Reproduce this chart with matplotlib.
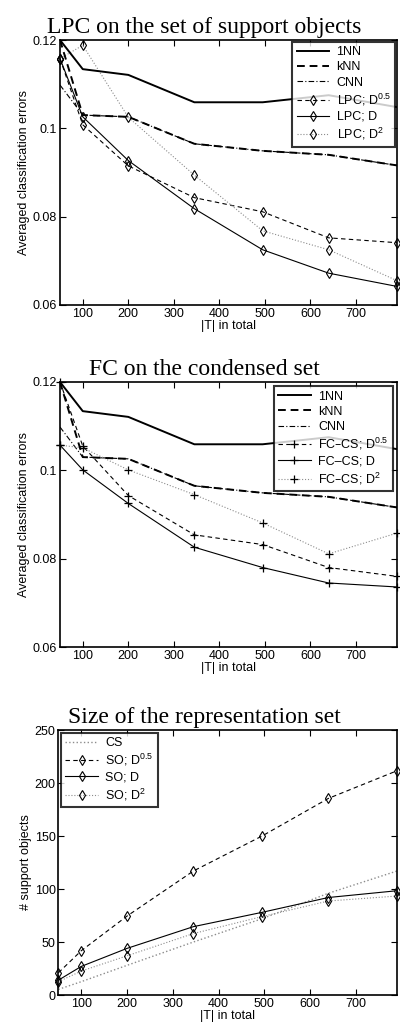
"""
Three stacked panels: LPC / FC classification errors and support-set size vs |T|
"""

import matplotlib
matplotlib.use("Agg")
import matplotlib.pyplot as plt

# ──────────────────────────────────────────────
# Data
# ──────────────────────────────────────────────

T_TOTAL = [50, 100, 200, 345, 495, 640, 790]

ERR_1NN = [0.1200, 0.1134, 0.1121, 0.1059, 0.1059, 0.1075, 0.1048]
ERR_KNN = [0.1200, 0.1030, 0.1026, 0.0965, 0.0949, 0.0940, 0.0916]
ERR_CNN = [0.1098, 0.1030, 0.1026, 0.0965, 0.0949, 0.0940, 0.0916]

LPC_D05 = [0.1158, 0.1008, 0.0915, 0.0843, 0.0811, 0.0752, 0.0741]
LPC_D1  = [0.1158, 0.1026, 0.0927, 0.0818, 0.0725, 0.0672, 0.0642]
LPC_D2  = [0.1158, 0.1188, 0.1025, 0.0894, 0.0768, 0.0725, 0.0655]

FC_D05 = [0.1200, 0.1055, 0.0943, 0.0854, 0.0832, 0.0780, 0.0760]
FC_D1  = [0.1057, 0.1001, 0.0925, 0.0826, 0.0780, 0.0745, 0.0736]
FC_D2  = [0.1057, 0.1051, 0.1001, 0.0945, 0.0881, 0.0811, 0.0858]

SIZE_CS  = [5.3, 12.6, 28.0, 50.0, 72.0, 96.0, 117.0]
SO_D05   = [21.0, 41.8, 74.5, 117.0, 150.0, 185.5, 211.6]
SO_D1    = [14.0, 27.0, 44.0, 64.5, 78.0, 92.0, 98.4]
SO_D2    = [12.6, 22.6, 37.0, 58.0, 74.0, 88.7, 93.4]

TITLES = ["LPC on the set of support objects",
          "FC on the condensed set",
          "Size of the representation set"]

# ──────────────────────────────────────────────
# Style
# ──────────────────────────────────────────────

plt.rcParams["font.family"] = ["Liberation Sans", "DejaVu Sans"]
plt.rcParams["mathtext.default"] = "regular"
plt.rcParams["xtick.direction"] = "in"
plt.rcParams["ytick.direction"] = "in"
plt.rcParams["xtick.top"] = True
plt.rcParams["ytick.right"] = True

DOT_GRAY = "0.55"
TICK_FS = 9
LABEL_FS = 9
TITLE_FS = 17

fig = plt.figure(figsize=(4.0, 10.31), dpi=100)

ax1 = fig.add_axes([0.150, 0.7042, 0.8425, 0.2570])
ax2 = fig.add_axes([0.150, 0.3724, 0.8425, 0.2571])
ax3 = fig.add_axes([0.146, 0.0349, 0.8465, 0.2570])


def style_axes(ax, title, ylabel, tx):
    # titles sit a bit left of the axes centre in the original
    ax.set_title(title, family=["Liberation Serif", "DejaVu Serif"],
                 fontsize=TITLE_FS, pad=5, x=tx)
    ax.set_xlim(50, 790)
    ax.set_xticks([100, 200, 300, 400, 500, 600, 700])
    ax.tick_params(labelsize=TICK_FS, length=4, width=0.8, pad=2)
    ax.set_xlabel("|T| in total", fontsize=LABEL_FS, labelpad=0)
    ax.set_ylabel(ylabel, fontsize=LABEL_FS, labelpad=2)
    for sp in ax.spines.values():
        sp.set_linewidth(1.2)


def baselines(ax):
    ax.plot(T_TOTAL, ERR_CNN, color="k", lw=0.8, ls="-.",
            dashes=(5, 2, 1, 2), label="CNN", zorder=2)
    ax.plot(T_TOTAL, ERR_1NN, color="k", lw=1.4, ls="-", label="1NN", zorder=3)
    ax.plot(T_TOTAL, ERR_KNN, color="k", lw=1.4, ls="--",
            dashes=(4, 2.5), label="kNN", zorder=3)


def err_axis(ax):
    ax.set_ylim(0.06, 0.12)
    ax.set_yticks([0.06, 0.08, 0.1, 0.12])
    ax.set_yticklabels(["0.06", "0.08", "0.1", "0.12"])


def boxed_legend(leg):
    leg.get_frame().set_edgecolor("k")
    leg.get_frame().set_linewidth(1.5)


LEG_KW = dict(fontsize=9, frameon=True, fancybox=False, handlelength=2.6,
              labelspacing=0.25, borderpad=0.35, handletextpad=0.6,
              numpoints=1)

# ──────────────────────────────────────────────
# Panel 1 : LPC on support objects
# ──────────────────────────────────────────────

baselines(ax1)
mk = dict(marker="d", ms=5, mfc="none", mec="k", mew=0.8, clip_on=False)
ax1.plot(T_TOTAL, LPC_D05, color="k", lw=0.8, ls="--", dashes=(4, 3),
         label="LPC; D$^{0.5}$", **mk)
ax1.plot(T_TOTAL, LPC_D1, color="k", lw=0.8, ls="-", label="LPC; D", **mk)
ax1.plot(T_TOTAL, LPC_D2, color=DOT_GRAY, lw=0.8, ls=":",
         label="LPC; D$^2$", **mk)
err_axis(ax1)
style_axes(ax1, TITLES[0], "Averaged classification errors", 0.427)

h, l = ax1.get_legend_handles_labels()
order = [1, 2, 0, 3, 4, 5]
leg1 = ax1.legend([h[i] for i in order], [l[i] for i in order],
                  loc="upper right", borderaxespad=0.15, **LEG_KW)
boxed_legend(leg1)

# ──────────────────────────────────────────────
# Panel 2 : FC on condensed set
# ──────────────────────────────────────────────

baselines(ax2)
pk = dict(marker="+", ms=6, mec="k", mew=0.9, clip_on=False)
ax2.plot(T_TOTAL, FC_D05, color="k", lw=0.8, ls="--", dashes=(4, 3),
         label="FC\u2013CS; D$^{0.5}$", **pk)
ax2.plot(T_TOTAL, FC_D1, color="k", lw=0.8, ls="-", label="FC\u2013CS; D", **pk)
ax2.plot(T_TOTAL, FC_D2, color=DOT_GRAY, lw=0.8, ls=":",
         label="FC\u2013CS; D$^2$", **pk)
err_axis(ax2)
style_axes(ax2, TITLES[1], "Averaged classification errors", 0.427)

h, l = ax2.get_legend_handles_labels()
leg2 = ax2.legend([h[i] for i in order], [l[i] for i in order],
                  loc="upper right", borderaxespad=0.35, **LEG_KW)
boxed_legend(leg2)

# ──────────────────────────────────────────────
# Panel 3 : size of representation set
# ──────────────────────────────────────────────

ax3.plot(T_TOTAL, SIZE_CS, color=DOT_GRAY, lw=1.0, ls=":", label="CS")
ax3.plot(T_TOTAL, SO_D05, color="k", lw=0.8, ls="--", dashes=(4, 3),
         label="SO; D$^{0.5}$", **mk)
ax3.plot(T_TOTAL, SO_D1, color="k", lw=0.8, ls="-", label="SO; D", **mk)
ax3.plot(T_TOTAL, SO_D2, color=DOT_GRAY, lw=0.8, ls=":",
         label="SO; D$^2$", **mk)
ax3.set_ylim(0, 250)
ax3.set_yticks([0, 50, 100, 150, 200, 250])
style_axes(ax3, TITLES[2], "# support objects", 0.431)

leg3 = ax3.legend(loc="upper left", borderaxespad=0.2, **LEG_KW)
boxed_legend(leg3)

fig.savefig("out.png", dpi=100)
